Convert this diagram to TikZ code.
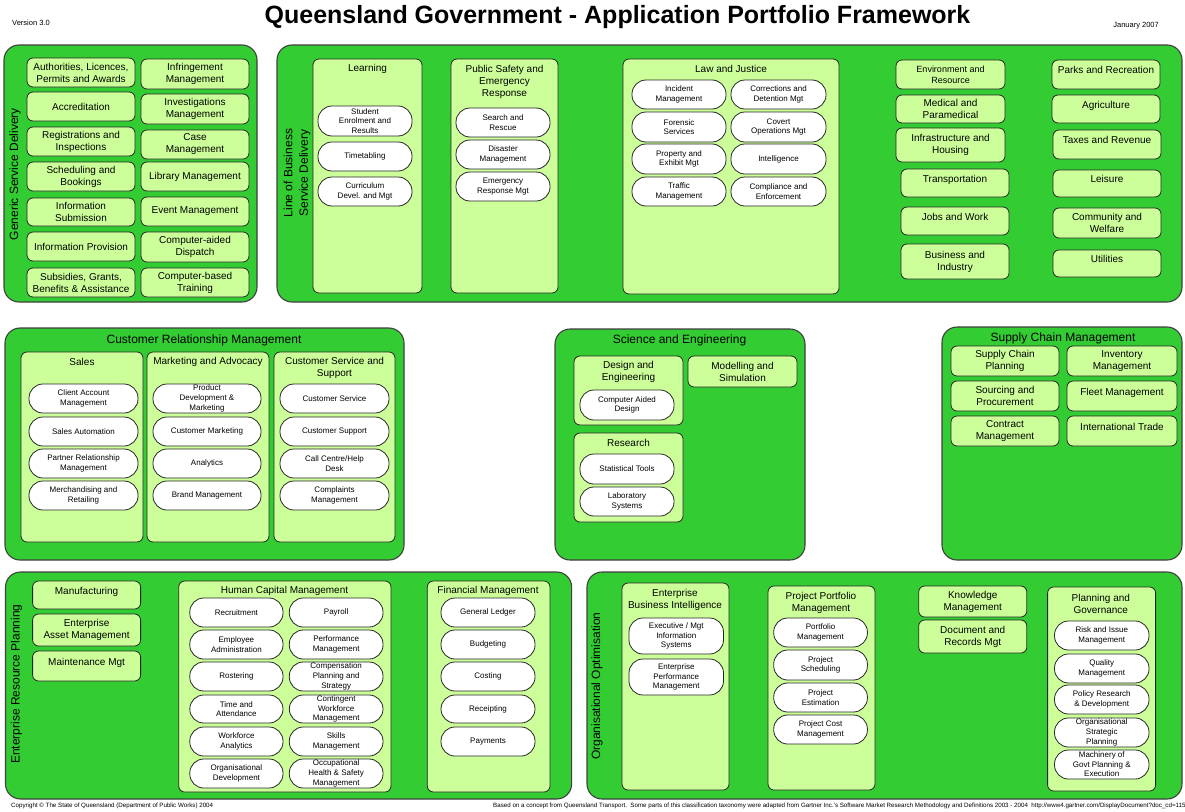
\documentclass[tikz,border=0pt]{standalone}
\usepackage{fontspec}
\setmainfont{Liberation Sans}
\definecolor{qgreen}{HTML}{33CC33}
\definecolor{qlight}{HTML}{CCFF99}
\tikzset{
  qspan/.style n args={4}{at={(#1/2+#3/2,#2/2+#4/2)}, minimum width={(#3-#1)*1pt}, minimum height={(#4-#2)*1pt}},
  qgroup/.style={draw=black!75, fill=qgreen, line width=1.1pt, rounded corners=15pt, inner sep=0pt},
  qpanel/.style={draw=black!85, fill=qlight, line width=0.8pt, rounded corners=6pt, inner sep=0pt},
  qbox/.style={qpanel, align=center, font=\fontsize{10}{12}\selectfont},
  qpill/.style={draw=black!85, fill=white, line width=0.8pt, rounded corners=14pt, inner sep=0pt, align=center, font=\fontsize{8}{9.6}\selectfont},
  qup/.style={text depth=9pt},
  qtitle/.style={align=center, inner sep=0pt, font=\fontsize{10}{12}\selectfont},
  qhead/.style={align=center, inner sep=0pt, font=\fontsize{12}{14}\selectfont},
  qside/.style={qhead, rotate=90, font=\fontsize{12}{15.5}\selectfont},
  qnote/.style={anchor=west, inner sep=0pt, font=\fontsize{6.2}{7}\selectfont},
}

\begin{document}
\begin{tikzpicture}[x=1pt, y=-1pt]
\path[use as bounding box, fill=white] (0,0) rectangle (1185,811);

% heading
\node[anchor=west, inner sep=0pt, font=\fontsize{7.5}{9}\selectfont] (ver) at (12,23) {Version 3.0};
\node[inner sep=0pt, font=\fontsize{25}{29}\selectfont\bfseries] (title) at (617.5,17) {Queensland Government - Application Portfolio Framework};
\node[anchor=east, inner sep=0pt, font=\fontsize{7.5}{9}\selectfont] (date) at (1159,26) {January 2007};

% generic service delivery
\node[qgroup, qspan={4}{45}{257}{302}] (gsd) {};
\node[qside] (gsdT) at (15,174) {Generic Service Delivery};
\node[qbox, qspan={27}{58}{135}{87}] (gsdA1) {Authorities, Licences,\\Permits and Awards};
\node[qbox, qspan={27}{92}{135}{121}] (gsdA2) {Accreditation};
\node[qbox, qspan={27}{127}{135}{156}] (gsdA3) {Registrations and\\Inspections};
\node[qbox, qspan={27}{162}{135}{191}] (gsdA4) {Scheduling and\\Bookings};
\node[qbox, qspan={27}{198}{135}{226}] (gsdA5) {Information\\Submission};
\node[qbox, qspan={27}{232}{135}{261}] (gsdA6) {Information Provision};
\node[qbox, qspan={27}{268}{135}{297}] (gsdA7) {Subsidies, Grants,\\Benefits \& Assistance};
\node[qbox, qspan={141}{59}{249}{89}] (gsdB1) {Infringement\\Management};
\node[qbox, qspan={141}{94}{249}{124}] (gsdB2) {Investigations\\Management};
\node[qbox, qspan={141}{130}{249}{159}] (gsdB3) {Case\\Management};
\node[qbox, qspan={141}{162}{249}{191}] (gsdB4) {Library Management};
\node[qbox, qspan={141}{197}{249}{226}] (gsdB5) {Event Management};
\node[qbox, qspan={141}{232}{249}{262}] (gsdB6) {Computer-aided\\Dispatch};
\node[qbox, qspan={141}{268}{249}{297}] (gsdB7) {Computer-based\\Training};

% line of business
\node[qgroup, qspan={277}{45}{1182}{302}] (lob) {};
\node[qside] (lobT) at (297,173) {Line of Business\\Service Delivery};
\node[qpanel, qspan={313}{59}{422}{293}] (learn) {};
\node[qtitle] (learnT) at (367.5,69) {Learning};
\node[qpill, qspan={318}{106}{412}{136}] (learn1) {Student\\Enrolment and\\Results};
\node[qpill, qspan={318}{142}{412}{171}] (learn2) {Timetabling};
\node[qpill, qspan={318}{177}{412}{206}] (learn3) {Curriculum\\Devel. and Mgt};
\node[qpanel, qspan={451}{59}{558}{293}] (safe) {};
\node[qtitle] (safeT) at (504.5,81.5) {Public Safety and\\Emergency\\Response};
\node[qpill, qspan={456}{108}{550}{137}] (safe1) {Search and\\Rescue};
\node[qpill, qspan={456}{140}{550}{169}] (safe2) {Disaster\\Management};
\node[qpill, qspan={456}{172}{550}{201}] (safe3) {Emergency\\Response Mgt};
\node[qpanel, qspan={623}{59}{839}{294}] (law) {};
\node[qtitle] (lawT) at (731,69) {Law and Justice};
\node[qpill, qspan={632}{80}{726}{109}] (lawA1) {Incident\\Management};
\node[qpill, qspan={632}{112}{726}{142}] (lawA2) {Forensic\\Services};
\node[qpill, qspan={632}{144}{726}{174}] (lawA3) {Property and\\Exhibit Mgt};
\node[qpill, qspan={632}{177}{726}{206}] (lawA4) {Traffic\\Management};
\node[qpill, qspan={731}{80}{826}{109}] (lawB1) {Corrections and\\Detention Mgt};
\node[qpill, qspan={731}{112}{826}{142}] (lawB2) {Covert\\Operations Mgt};
\node[qpill, qspan={731}{144}{826}{174}] (lawB3) {Intelligence};
\node[qpill, qspan={731}{177}{826}{206}] (lawB4) {Compliance and\\Enforcement};
\node[qbox, qspan={896}{60}{1005}{89}, font=\fontsize{9}{11}\selectfont] (env) {Environment and\\Resource};
\node[qbox, qspan={896}{95}{1005}{123}] (med) {Medical and\\Paramedical};
\node[qbox, qspan={896}{128}{1005}{162}] (infra) {Infrastructure and\\Housing};
\node[qbox, qup, qspan={901}{169}{1009}{197}] (trans) {Transportation};
\node[qbox, qup, qspan={901}{207}{1009}{235}] (jobs) {Jobs and Work};
\node[qbox, qspan={901}{244}{1009}{279}] (biz) {Business and\\Industry};
\node[qbox, qup, qspan={1052}{60}{1160}{89}] (parks) {Parks and Recreation};
\node[qbox, qup, qspan={1052}{95}{1160}{123}] (agri) {Agriculture};
\node[qbox, qup, qspan={1053}{130}{1161}{159}] (tax) {Taxes and Revenue};
\node[qbox, qup, qspan={1053}{170}{1161}{197}] (leis) {Leisure};
\node[qbox, qspan={1053}{208}{1161}{238}] (comm) {Community and\\Welfare};
\node[qbox, qup, qspan={1053}{250}{1161}{277}] (util) {Utilities};

% customer relationship management
\node[qgroup, qspan={5}{328}{404}{560}] (crm) {};
\node[qhead] (crmT) at (204,340) {Customer Relationship Management};
\node[qpanel, qspan={21}{352}{143}{542}] (sales) {};
\node[qtitle] (salesT) at (82,362) {Sales};
\node[qpill, qspan={29}{384}{138}{413}] (sales1) {Client Account\\Management};
\node[qpill, qspan={29}{417}{138}{446}] (sales2) {Sales Automation};
\node[qpill, qspan={29}{449}{138}{478}] (sales3) {Partner Relationship\\Management};
\node[qpill, qspan={29}{481}{138}{510}] (sales4) {Merchandising and\\Retailing};
\node[qpanel, qspan={147}{352}{269}{542}] (mkt) {};
\node[qtitle] (mktT) at (208,362) {Marketing and Advocacy};
\node[qpill, qspan={153}{384}{261}{413}] (mkt1) {Product\\Development \&\\Marketing};
\node[qpill, qspan={153}{417}{261}{446}] (mkt2) {Customer Marketing};
\node[qpill, qspan={153}{449}{261}{478}] (mkt3) {Analytics};
\node[qpill, qspan={153}{481}{261}{510}] (mkt4) {Brand Management};
\node[qpanel, qspan={274}{352}{395}{542}] (csup) {};
\node[qtitle] (csupT) at (334.5,368) {Customer Service and\\Support};
\node[qpill, qspan={280}{384}{389}{413}] (csup1) {Customer Service};
\node[qpill, qspan={280}{417}{389}{446}] (csup2) {Customer Support};
\node[qpill, qspan={280}{449}{389}{478}] (csup3) {Call Centre/Help\\Desk};
\node[qpill, qspan={280}{481}{389}{510}] (csup4) {Complaints\\Management};

% science and engineering
\node[qgroup, qspan={555}{329}{805}{560}] (sci) {};
\node[qhead] (sciT) at (679.5,340) {Science and Engineering};
\node[qpanel, qspan={574}{356}{683}{425}] (design) {};
\node[qtitle] (designT) at (628.5,372) {Design and\\Engineering};
\node[qpill, qspan={580}{390}{674}{420}] (design1) {Computer Aided\\Design};
\node[qbox, qspan={688}{356}{797}{387}] (model) {Modelling and\\Simulation};
\node[qpanel, qspan={574}{433}{683}{522}] (res) {};
\node[qtitle] (resT) at (628.5,443) {Research};
\node[qpill, qspan={580}{454}{674}{484}] (res1) {Statistical Tools};
\node[qpill, qspan={580}{487}{674}{516}] (res2) {Laboratory\\Systems};

% supply chain management
\node[qgroup, qspan={942}{327}{1182}{560}] (scm) {};
\node[qhead] (scmT) at (1063,338) {Supply Chain Management};
\node[qbox, qspan={951}{346}{1059}{376}] (scmA1) {Supply Chain\\Planning};
\node[qbox, qspan={951}{381}{1059}{411}] (scmA2) {Sourcing and\\Procurement};
\node[qbox, qspan={951}{416}{1059}{446}] (scmA3) {Contract\\Management};
\node[qbox, qspan={1067}{346}{1177}{376}] (scmB1) {Inventory\\Management};
\node[qbox, qup, qspan={1067}{381}{1177}{411}] (scmB2) {Fleet Management};
\node[qbox, qup, qspan={1067}{416}{1177}{446}] (scmB3) {International Trade};

% enterprise resource planning
\node[qgroup, qspan={5.5}{572}{571.6}{799}] (erp) {};
\node[qside] (erpT) at (16.6,684) {Enterprise Resource Planning};
\node[qbox, qup, qspan={32.6}{581}{140.6}{609}] (manuf) {Manufacturing};
\node[qbox, qspan={32.6}{614}{140.6}{646}] (asset) {Enterprise\\Asset Management};
\node[qbox, qup, qspan={32.6}{651}{140.6}{681}] (maint) {Maintenance Mgt};
\node[qpanel, qspan={178.7}{581}{391}{792}] (hcm) {};
\node[qtitle] (hcmT) at (284.5,591) {Human Capital Management};
\node[qpill, qspan={189.8}{598}{283}{627}] (hcmA1) {Recruitment};
\node[qpill, qspan={189.8}{630}{283}{659}] (hcmA2) {Employee\\Administration};
\node[qpill, qspan={189.8}{662}{283}{691}] (hcmA3) {Rostering};
\node[qpill, qspan={189.8}{695}{283}{723}] (hcmA4) {Time and\\Attendance};
\node[qpill, qspan={189.8}{727}{283}{756}] (hcmA5) {Workforce\\Analytics};
\node[qpill, qspan={189.8}{759}{283}{788}] (hcmA6) {Organisational\\Development};
\node[qpill, qspan={289.3}{598}{383}{627}] (hcmB1) {Payroll};
\node[qpill, qspan={289.3}{630}{383}{659}] (hcmB2) {Performance\\Management};
\node[qpill, qspan={289.3}{662}{383}{691}] (hcmB3) {Compensation\\Planning and\\Strategy};
\node[qpill, qspan={289.3}{695}{383}{723}] (hcmB4) {Contingent\\Workforce\\Management};
\node[qpill, qspan={289.3}{727}{383}{756}] (hcmB5) {Skills\\Management};
\node[qpill, qspan={289.3}{759}{383}{788}] (hcmB6) {Occupational\\Health \& Safety\\Management};
\node[qpanel, qspan={427.3}{581}{550}{792}] (fin) {};
\node[qtitle] (finT) at (488,591) {Financial Management};
\node[qpill, qspan={441}{598}{535}{627}] (fin1) {General Ledger};
\node[qpill, qspan={441}{630}{535}{659}] (fin2) {Budgeting};
\node[qpill, qspan={441}{662}{535}{691}] (fin3) {Costing};
\node[qpill, qspan={441}{695}{535}{723}] (fin4) {Receipting};
\node[qpill, qspan={441}{727}{535}{756}] (fin5) {Payments};

% organisational optimisation
\node[qgroup, qspan={587}{572}{1182}{799}] (org) {};
\node[qside] (orgT) at (597,686) {Organisational Optimisation};
\node[qpanel, qspan={622}{583}{729}{790}] (ebi) {};
\node[qtitle] (ebiT) at (675,599.5) {Enterprise\\Business Intelligence};
\node[qpill, qspan={629}{618}{723.5}{654}] (ebi1) {Executive / Mgt\\Information\\Systems};
\node[qpill, qspan={629}{659}{723.5}{695}] (ebi2) {Enterprise\\Performance\\Management};
\node[qpanel, qspan={768}{586}{875}{790}] (ppm) {};
\node[qtitle] (ppmT) at (821,603) {Project Portfolio\\Management};
\node[qpill, qspan={773.7}{618}{867.4}{647}] (ppm1) {Portfolio\\Management};
\node[qpill, qspan={773.7}{650}{867.4}{680}] (ppm2) {Project\\Scheduling};
\node[qpill, qspan={773.7}{683}{867.4}{712}] (ppm3) {Project\\Estimation};
\node[qpill, qspan={773.7}{715}{867.4}{744}] (ppm4) {Project Cost\\Management};
\node[qbox, qspan={918.7}{586}{1026.8}{617}] (know) {Knowledge\\Management};
\node[qbox, qspan={918.7}{620}{1026.8}{653}] (docs) {Document and\\Records Mgt};
\node[qpanel, qspan={1047.6}{587}{1155.6}{791}] (plan) {};
\node[qtitle] (planT) at (1100.8,603.5) {Planning and\\Governance};
\node[qpill, qspan={1054.5}{621}{1149}{650}] (plan1) {Risk and Issue\\Management};
\node[qpill, qspan={1054.5}{654}{1149}{683}] (plan2) {Quality\\Management};
\node[qpill, qspan={1054.5}{685}{1149}{714}] (plan3) {Policy Research\\\& Development};
\node[qpill, qspan={1054.5}{718}{1149}{747}] (plan4) {Organisational\\Strategic\\Planning};
\node[qpill, qspan={1054.5}{750}{1149}{779}] (plan5) {Machinery of\\Govt Planning \&\\Execution};

% footer
\node[qnote] (copy) at (11,806) {Copyright © The State of Queensland (Department of Public Works) 2004};
\node[qnote] (src) at (493,806) {Based on a concept from Queensland Transport.\ \ Some parts of this classification taxonomy were adapted from Gartner Inc.'s Software Market Research Methodology and Definitions 2003 - 2004\ \ http://www4.gartner.com/DisplayDocument?doc\_cd=115};
\end{tikzpicture}
\end{document}
